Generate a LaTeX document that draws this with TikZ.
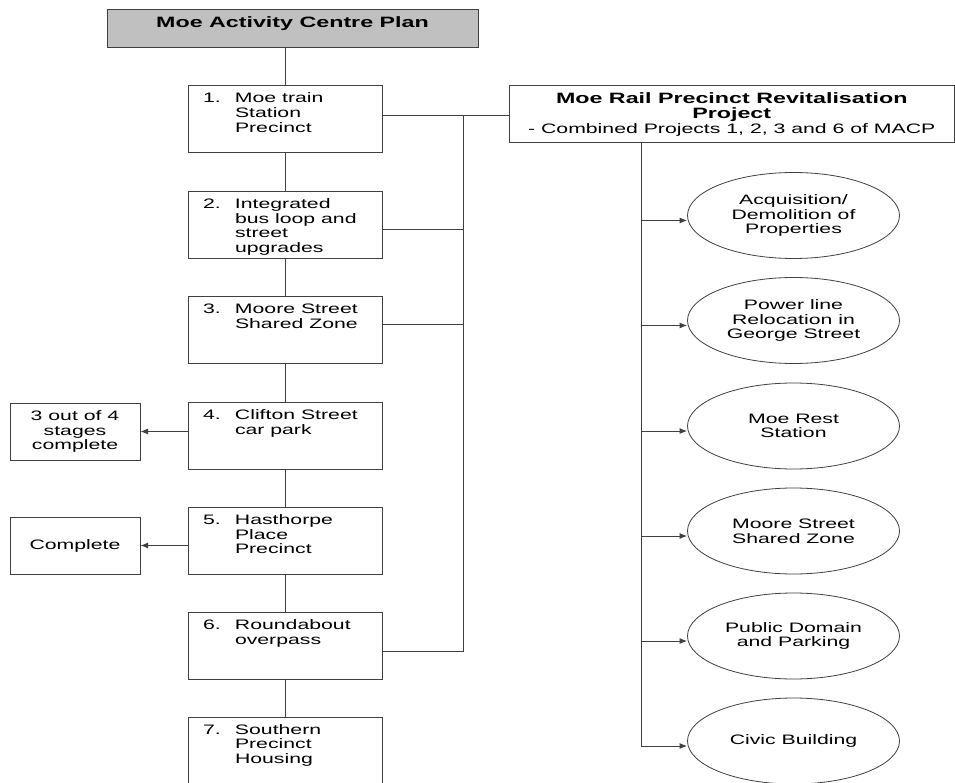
\documentclass[tikz,border=0pt]{standalone}
\usepackage{fontspec}
\setmainfont[FakeStretch=1.55]{Liberation Sans}
\usetikzlibrary{arrows.meta,shapes.geometric,calc}
\definecolor{linecol}{HTML}{404040}
\definecolor{titlefill}{HTML}{C0C0C0}
\newcommand{\numtext}[2]{\parbox[c][67pt][t]{194pt}{\hspace*{15pt}\makebox[32pt][l]{\rule{0pt}{17pt}#1}\parbox[t]{145pt}{\raggedright #2}}}
\newcommand{\bigbold}{\fontsize{15}{14.5}\selectfont\bfseries}
\begin{document}
\begin{tikzpicture}[x=1pt,y=-1pt,
  font=\fontsize{13.7}{14.7}\selectfont,
  numbox/.style={draw=linecol, line width=1pt, fill=white, minimum width=194pt, minimum height=67pt, inner sep=0pt},
  sidebox/.style={draw=linecol, line width=1pt, minimum width=130pt, minimum height=57pt, inner sep=0pt, align=center},
  oval/.style={ellipse, draw=linecol, line width=0.8pt, minimum width=212pt, minimum height=86pt, inner sep=0pt, align=center},
  conn/.style={draw=linecol, line width=1pt},
  arr/.style={conn, -{Latex[length=7.5pt,width=6pt]}}]
\clip (0,0) rectangle (955,783);
\fill[white] (0,0) rectangle (955,783);
% title
\node[draw=linecol, line width=1pt, fill=titlefill, minimum width=371pt, minimum height=38pt, inner sep=0pt] (title) at (292.5,29)
  {\parbox[c][38pt][t]{371pt}{\centering\fontsize{15}{17}\selectfont\bfseries\rule{0pt}{18pt}Moe Activity Centre Plan}};
% numbered boxes
\node[numbox] (b1) at (285,119.5) {\numtext{1.}{Moe train\\Station\\Precinct}};
\node[numbox] (b2) at (285,225) {\numtext{2.}{Integrated\\bus loop and\\street\\upgrades}};
\node[numbox] (b3) at (285,330) {\numtext{3.}{Moore Street\\Shared Zone}};
\node[numbox] (b4) at (285,436) {\numtext{4.}{Clifton Street\\car park}};
\node[numbox] (b5) at (285,541) {\numtext{5.}{Hasthorpe\\Place\\Precinct}};
\node[numbox] (b6) at (285,646) {\numtext{6.}{Roundabout\\overpass}};
\node[numbox] (b7) at (285,750.5) {\numtext{7.}{Southern\\Precinct\\Housing}};
% side boxes
\node[sidebox] (s4) at (75,431.5) {3 out of 4\\stages\\complete};
\node[sidebox] (s5) at (75,545.5) {Complete};
% big box
\node[draw=linecol, line width=1pt, minimum width=445.5pt, minimum height=57pt, inner sep=0pt, align=center] (big) at (731.75,114.5)
  {{\bigbold Moe Rail Precinct Revitalisation}\\{\bigbold Project}\\- Combined Projects 1, 2, 3 and 6 of MACP};
% ellipses
\node[oval] (e1) at (793.5,215.5) {Acquisition/\\Demolition of\\Properties};
\node[oval] (e2) at (793.5,320.5) {Power line\\Relocation in\\George Street};
\node[oval] (e3) at (793.5,426) {Moe Rest\\Station};
\node[oval] (e4) at (793.5,531) {Moore Street\\Shared Zone};
\node[oval] (e5) at (793.5,636) {Public Domain\\and Parking};
\node[oval] (e6) at (793.5,741) {Civic Building};
% vertical chain
\draw[conn] (b1.north |- title.south) -- (b1.north);
\draw[conn] (b1.south) -- (b2.north);
\draw[conn] (b2.south) -- (b3.north);
\draw[conn] (b3.south) -- (b4.north);
\draw[conn] (b4.south) -- (b5.north);
\draw[conn] (b5.south) -- (b6.north);
\draw[conn] (b6.south) -- (b7.north);
% side arrows
\draw[arr] (b4.west |- s4.east) -- (s4.east);
\draw[arr] (b5.west |- s5.east) -- (s5.east);
% bus to big box
\coordinate (bus1) at (463,116);
\coordinate (bus2) at (463,230);
\coordinate (bus3) at (463,325);
\coordinate (bus6) at (463,651);
\draw[conn] (b1.east |- bus1) -- (big.west |- bus1);
\draw[conn] (b2.east |- bus2) -- (bus2);
\draw[conn] (b3.east |- bus3) -- (bus3);
\draw[conn] (b6.east |- bus6) -- (bus6) -- (bus1);
% trunk to ellipses
\coordinate (trunk) at (641,0);
\foreach \i in {1,...,6} {
  \path ([yshift=-5pt]e\i.west) coordinate (a\i);
  \draw[arr] (trunk |- a\i) -- (a\i);
}
\draw[conn] (big.south -| trunk) -- (trunk |- a6);
\end{tikzpicture}
\end{document}
